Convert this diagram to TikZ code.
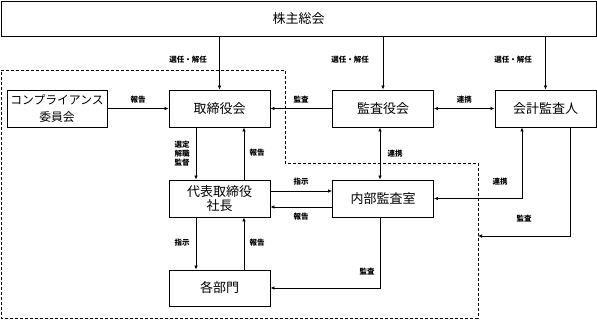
\documentclass[tikz,border=0pt]{standalone}
\usepackage{fontspec}
\newfontfamily\jp{Noto Sans CJK JP}
\usetikzlibrary{arrows.meta}
\begin{document}
\begin{tikzpicture}[x=1pt,y=-1pt,
  box/.style={draw,line width=0.9pt,minimum width=101pt,minimum height=37pt,inner sep=1pt,align=center,font=\jp\fontsize{13}{14}\selectfont},
  lbl/.style={inner sep=0pt,align=center,font=\jp\bfseries\fontsize{7.5}{9}\selectfont},
  arr/.style={line width=0.7pt,-{Latex[length=4pt,width=3.5pt]}},
  darr/.style={line width=0.7pt,{Latex[length=4pt,width=3.5pt]}-{Latex[length=4pt,width=3.5pt]}},
  grp/.style={line width=0.8pt,dash pattern=on 3pt off 2pt}]
\useasboundingbox (0,0) rectangle (597,319);
\draw[grp] (1,70) -- (285,70) -- (285,163) -- (478,163) -- (478,318) -- (1,318) -- cycle;
\node[box,minimum width=595pt,minimum height=35pt] (soukai) at (298.5,18.5) {株主総会};
\node[box,minimum width=100pt,font=\jp\fontsize{11.8}{16.5}\selectfont] (comp) at (57,108.5) {コンプライアンス\\委員会};
\node[box] (tori) at (219.5,108.5) {取締役会};
\node[box] (kansayaku) at (383,108.5) {監査役会};
\node[box] (kaikei) at (545.5,108.5) {会計監査人};
\node[box] (daihyo) at (219.5,198.5) {代表取締役\\社長};
\node[box] (naibu) at (383,198.5) {内部監査室};
\node[box,minimum height=36pt] (kakubu) at (219.5,288) {各部門};
\coordinate (gedge) at (478,236);
\foreach \n/\lx in {tori/188,kansayaku/350,kaikei/513}{
  \draw[arr] (soukai.south -| \n.north) -- (\n.north);
  \node[lbl] (sennin-\n) at (\lx,60) {選任・解任};
}
\draw[arr] (comp.east) -- (tori.west) node[lbl,midway,above=5pt] (l-comp) {報告};
\draw[arr] (kansayaku.west) -- (tori.east);
\node[lbl] (l-kansa) at (301,100) {監査};
\draw[darr] (kansayaku.east) -- (kaikei.west) node[lbl,midway,above=5pt] (l-renkei1) {連携};
\draw[arr] ([xshift=-23.5pt]tori.south) -- ([xshift=-23.5pt]daihyo.north);
\node[lbl,font=\jp\bfseries\fontsize{7.5}{9}\selectfont] (l-sentei) at (182,154) {選定\\解職\\監督};
\draw[arr] ([xshift=24.5pt]daihyo.north) -- ([xshift=24.5pt]tori.south);
\node[lbl] (l-houkoku1) at (257,153) {報告};
\draw[darr] ([xshift=-3pt]kansayaku.south) -- ([xshift=-3pt]naibu.north);
\node[lbl] (l-renkei2) at (395,154) {連携};
\draw[arr] ([yshift=7.5pt]daihyo.east) -- ([yshift=7.5pt]naibu.west);
\node[lbl] (l-shiji1) at (301,182) {指示};
\draw[arr] ([yshift=-8.5pt]naibu.west) -- ([yshift=-8.5pt]daihyo.east);
\node[lbl] (l-houkoku2) at (301,217) {報告};
\draw[darr] (naibu.east) -| ([xshift=-23.5pt]kaikei.south);
\node[lbl] (l-renkei3) at (500,182) {連携};
\draw[arr] ([xshift=24.5pt]kaikei.south) |- (gedge);
\node[lbl] (l-kansa2) at (524,219) {監査};
\draw[arr] ([xshift=-23.5pt]daihyo.south) -- ([xshift=-23.5pt]kakubu.north);
\node[lbl] (l-shiji2) at (182,243) {指示};
\draw[arr] ([xshift=24.5pt]kakubu.north) -- ([xshift=24.5pt]daihyo.south);
\node[lbl] (l-houkoku3) at (257,243) {報告};
\draw[arr] ([xshift=-3pt]naibu.south) |- (kakubu.east);
\node[lbl] (l-kansa3) at (367,272) {監査};
\end{tikzpicture}
\end{document}
